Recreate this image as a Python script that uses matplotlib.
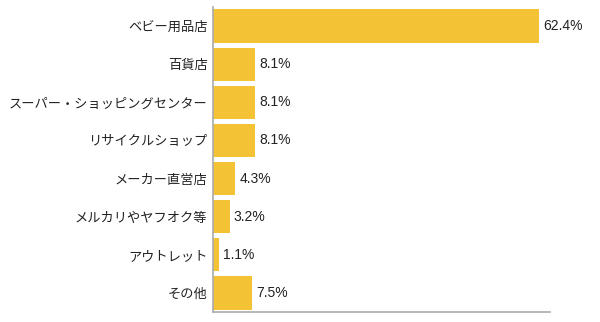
import matplotlib
matplotlib.use("Agg")
import matplotlib.pyplot as plt

plt.rcParams['font.family'] = ['Noto Sans CJK JP', 'DejaVu Sans']

# データ
categories = ["ベビー用品店", "百貨店", "スーパー・ショッピングセンター", "リサイクルショップ",
              "メーカー直営店", "メルカリやヤフオク等", "アウトレット", "その他"]
values = [62.4, 8.1, 8.1, 8.1, 4.3, 3.2, 1.1, 7.5]

fig = plt.figure(figsize=(6, 3.22), dpi=100)
ax = fig.add_axes([213 / 600, 10 / 322, 337 / 600, 305 / 322])

pos = list(range(len(categories)))
ax.barh(pos, values, height=0.87, color="#F4C335")

for p, v in zip(pos, values):
    ax.text(v + 0.8, p, f"{v}%", va="center", ha="left", fontsize=10,
            color="#222222", family=["Liberation Sans", "DejaVu Sans"])

ax.set_xlim(0, 64.5)
ax.set_ylim(len(categories) - 0.5, -0.5)
ax.set_yticks(pos)
ax.set_yticklabels(categories, fontsize=9.5, color="#222222")
ax.tick_params(axis="y", length=0, pad=4)
ax.set_xticks([])

for s in ["top", "right"]:
    ax.spines[s].set_visible(False)
for s in ["left", "bottom"]:
    ax.spines[s].set_color("#aaaaaa")
    ax.spines[s].set_linewidth(1.2)

fig.savefig("out.png", dpi=100)
